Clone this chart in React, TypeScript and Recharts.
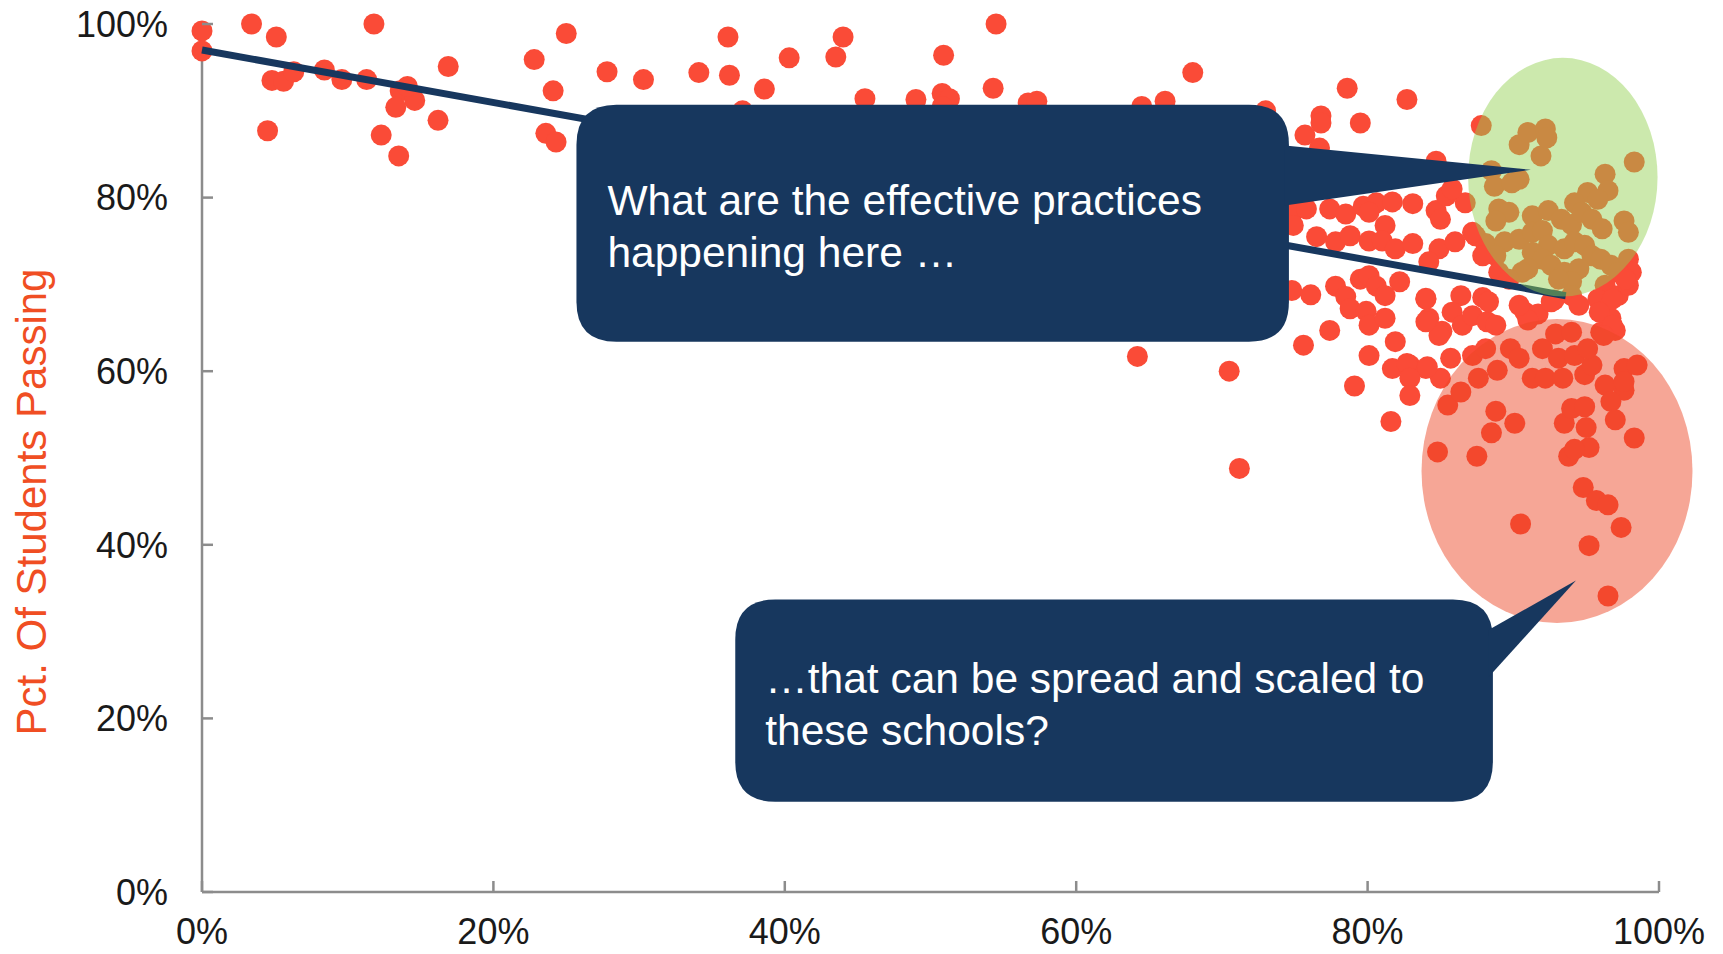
import { ScatterChart, Scatter, XAxis, YAxis, ReferenceLine, ReferenceArea } from 'recharts';

const NAVY = '#17375e';
const DOT = '#fa4b37';
const AXIS = '#8c8c8c';
const FONT = '"Liberation Sans", Arial, sans-serif';

// [share of students, pct passing], left to right
const upperBand: [number, number][] = [
  [0.0, 0.992], [0.0, 0.969], [0.034, 1.0], [0.051, 0.985], [0.048, 0.935], [0.056, 0.934],
  [0.063, 0.945], [0.045, 0.877], [0.084, 0.947], [0.096, 0.936], [0.113, 0.936], [0.118, 1.0],
  [0.136, 0.923], [0.146, 0.912], [0.133, 0.904], [0.141, 0.928], [0.123, 0.872], [0.135, 0.848],
  [0.162, 0.889], [0.169, 0.951], [0.228, 0.959], [0.25, 0.989], [0.241, 0.923], [0.236, 0.874],
  [0.243, 0.864], [0.278, 0.945], [0.303, 0.936], [0.341, 0.944], [0.361, 0.985], [0.362, 0.941],
  [0.386, 0.925], [0.403, 0.961], [0.44, 0.985], [0.435, 0.962], [0.455, 0.914], [0.49, 0.913],
  [0.508, 0.92], [0.513, 0.914], [0.509, 0.964], [0.545, 1.0], [0.543, 0.926], [0.567, 0.909],
  [0.573, 0.911], [0.371, 0.9], [0.508, 0.905],
  [0.68, 0.944], [0.645, 0.905], [0.661, 0.911], [0.73, 0.9], [0.786, 0.926], [0.827, 0.913],
  [0.768, 0.894], [0.768, 0.886], [0.795, 0.886], [0.757, 0.872], [0.767, 0.857], [0.847, 0.842],
];

const middleBand: [number, number][] = [
  [0.749, 0.784], [0.758, 0.787], [0.774, 0.787], [0.785, 0.781], [0.797, 0.79], [0.806, 0.794],
  [0.817, 0.795], [0.831, 0.793], [0.801, 0.783], [0.847, 0.785], [0.85, 0.775], [0.749, 0.768],
  [0.765, 0.755], [0.778, 0.749], [0.788, 0.756], [0.812, 0.768], [0.801, 0.75], [0.81, 0.75],
  [0.819, 0.741], [0.831, 0.747], [0.849, 0.741], [0.842, 0.726], [0.748, 0.693], [0.761, 0.688],
  [0.778, 0.698], [0.785, 0.686], [0.795, 0.706], [0.801, 0.71], [0.806, 0.698], [0.812, 0.687],
  [0.822, 0.703], [0.788, 0.672], [0.799, 0.669], [0.801, 0.653], [0.812, 0.661], [0.84, 0.683],
  [0.842, 0.661], [0.851, 0.646], [0.774, 0.647], [0.756, 0.63], [0.801, 0.618], [0.819, 0.634],
  [0.829, 0.607], [0.817, 0.603], [0.84, 0.603], [0.642, 0.617], [0.705, 0.6], [0.712, 0.488],
  [0.791, 0.583], [0.816, 0.542], [0.827, 0.609], [0.829, 0.592], [0.829, 0.572], [0.85, 0.592],
  [0.855, 0.561], [0.848, 0.507], [0.849, 0.641],
];

const greenZone: [number, number][] = [
  [0.878, 0.883], [0.904, 0.861], [0.91, 0.875], [0.922, 0.879], [0.919, 0.848], [0.923, 0.869],
  [0.983, 0.841], [0.885, 0.831], [0.887, 0.813], [0.904, 0.821], [0.899, 0.817], [0.867, 0.794],
  [0.89, 0.787], [0.897, 0.783], [0.888, 0.773], [0.963, 0.827], [0.965, 0.808], [0.951, 0.806],
  [0.942, 0.794], [0.958, 0.798], [0.976, 0.773], [0.979, 0.76], [0.913, 0.779], [0.924, 0.785],
  [0.933, 0.775], [0.94, 0.769], [0.947, 0.783], [0.954, 0.775], [0.961, 0.764], [0.874, 0.756],
  [0.881, 0.747], [0.894, 0.749], [0.904, 0.752], [0.913, 0.76], [0.92, 0.762], [0.924, 0.745],
  [0.935, 0.741], [0.942, 0.749], [0.949, 0.745], [0.954, 0.733], [0.888, 0.733], [0.913, 0.737],
  [0.92, 0.729], [0.926, 0.722], [0.935, 0.714], [0.945, 0.718], [0.96, 0.729], [0.967, 0.722],
  [0.91, 0.718], [0.906, 0.714], [0.94, 0.703], [0.931, 0.706],
  [0.979, 0.729], [0.981, 0.714], [0.972, 0.714], [0.963, 0.699], [0.854, 0.802], [0.858, 0.81],
  [0.86, 0.749], [0.872, 0.76], [0.879, 0.733], [0.89, 0.714], [0.897, 0.706],
];

const lowerZone: [number, number][] = [
  [0.84, 0.684], [0.864, 0.687], [0.879, 0.685], [0.858, 0.668], [0.865, 0.653], [0.872, 0.664],
  [0.882, 0.657], [0.888, 0.653], [0.84, 0.657], [0.841, 0.605], [0.857, 0.615], [0.864, 0.576],
  [0.872, 0.618], [0.881, 0.626], [0.876, 0.592], [0.889, 0.601], [0.898, 0.626], [0.904, 0.615],
  [0.913, 0.592], [0.92, 0.626], [0.922, 0.592], [0.929, 0.643], [0.931, 0.615], [0.934, 0.592],
  [0.94, 0.645], [0.942, 0.618], [0.949, 0.596], [0.954, 0.607], [0.963, 0.584], [0.96, 0.645],
  [0.97, 0.647], [0.908, 0.668], [0.917, 0.666], [0.91, 0.659], [0.928, 0.682], [0.94, 0.687],
  [0.967, 0.661], [0.976, 0.603], [0.985, 0.607], [0.976, 0.578], [0.967, 0.565], [0.97, 0.544],
  [0.983, 0.523], [0.875, 0.502], [0.888, 0.554], [0.885, 0.529], [0.901, 0.54], [0.935, 0.54],
  [0.94, 0.557], [0.949, 0.559], [0.95, 0.535], [0.952, 0.512], [0.938, 0.502], [0.942, 0.51],
  [0.948, 0.466], [0.957, 0.451], [0.965, 0.446], [0.905, 0.424], [0.974, 0.42], [0.952, 0.399],
  [0.965, 0.341],
  [0.883, 0.68], [0.904, 0.676], [0.926, 0.68], [0.945, 0.676], [0.958, 0.683], [0.972, 0.687],
  [0.979, 0.699], [0.977, 0.706], [0.968, 0.683], [0.959, 0.668], [0.968, 0.653], [0.962, 0.641],
  [0.951, 0.626], [0.976, 0.588],
];

const trendStart = { x: 0, y: 0.97 };
const trendEnd = { x: 0.936, y: 0.687 };

const ticks = [0, 0.2, 0.4, 0.6, 0.8, 1];
const pct = (v: number) => `${Math.round(v * 100)}%`;

const greenOval = { x1: 0.869, x2: 0.999, y1: 0.686, y2: 0.961 };
const redOval = { x1: 0.837, x2: 1.023, y1: 0.31, y2: 0.66 };

const topBox = { x1: 0.257, x2: 0.746, y1: 0.634, y2: 0.907 };
const topPointer = { baseTop: 0.86, baseBottom: 0.791, tipX: 0.912, tipY: 0.832 };
const topLines = ['What are the effective practices', 'happening here \u2026'];

const bottomBox = { x1: 0.366, x2: 0.886, y1: 0.104, y2: 0.337 };
const bottomPointer = { baseTop: 0.302, baseBottom: 0.248, tipX: 0.943, tipY: 0.359 };
const bottomLines = ['\u2026that can be spread and scaled to', 'these schools?'];

const points = [...upperBand, ...middleBand, ...greenZone, ...lowerZone].map(([x, y]) => ({ x, y }));

function ovalShape(fill: string, opacity: number) {
  return (props: any) => {
    const { x, y, width, height } = props;
    return (
      <ellipse
        cx={x + width / 2}
        cy={y + height / 2}
        rx={width / 2}
        ry={height / 2}
        fill={fill}
        fillOpacity={opacity}
      />
    );
  };
}

function calloutShape(box: any, ptr: any, lines: string[], textLeft: number, firstBase: number) {
  return (props: any) => {
    const { x, y, width, height } = props;
    const kx = width / (box.x2 - box.x1);
    const ky = height / (box.y2 - box.y1);
    const px = (v: number) => x + (v - box.x1) * kx;
    const py = (v: number) => y + (box.y2 - v) * ky;
    const r = 40;
    const R = x + width;
    const B = y + height;
    const rect = `M${x + r},${y} H${R - r} Q${R},${y} ${R},${y + r} V${B - r} Q${R},${B} ${R - r},${B} H${x + r} Q${x},${B} ${x},${B - r} V${y + r} Q${x},${y} ${x + r},${y} Z`;
    const tri = `M${R - 4},${py(ptr.baseTop)} L${px(ptr.tipX)},${py(ptr.tipY)} L${R - 4},${py(ptr.baseBottom)} Z`;
    return (
      <g>
        <path d={rect} fill={NAVY} />
        <path d={tri} fill={NAVY} />
        <text x={x + textLeft} y={y + firstBase} fill="#ffffff" fontSize={42.5} fontFamily={FONT}>
          {lines.map((l, i) => (
            <tspan key={i} x={x + textLeft} dy={i === 0 ? 0 : 52}>
              {l}
            </tspan>
          ))}
        </text>
      </g>
    );
  };
}

const XTick = (props: any) => {
  const { x, y, payload } = props;
  return (
    <g>
      <line x1={x} x2={x} y1={y - 26} y2={y - 37} stroke={AXIS} strokeWidth={2.5} />
      <text x={x} y={y} dy="0.71em" textAnchor="middle" fontSize={36} fontFamily={FONT} fill="#1a1a1a">
        {pct(payload.value)}
      </text>
    </g>
  );
};

const YTick = (props: any) => {
  const { x, y, payload } = props;
  return (
    <g>
      <line x1={x + 34} x2={x + 45} y1={y} y2={y} stroke={AXIS} strokeWidth={2.5} />
      <text x={x} y={y} dy="0.355em" textAnchor="end" fontSize={36} fontFamily={FONT} fill="#1a1a1a">
        {pct(payload.value)}
      </text>
    </g>
  );
};

const YTitle = (props: any) => {
  const vb = props.viewBox;
  const cx = vb.x - 51;
  const cy = vb.y + vb.height / 2 + 44;
  return (
    <text
      x={cx}
      y={cy}
      transform={`rotate(-90 ${cx} ${cy})`}
      textAnchor="middle"
      dominantBaseline="central"
      fontSize={42}
      fontFamily={FONT}
      fill="#f04e23"
    >
      Pct. Of Students Passing
    </text>
  );
};

export default function App() {
  return (
    <div style={{ width: 1715, height: 980, background: '#fff' }}>
      <style>{'body{overflow:hidden} .recharts-surface{overflow:visible}'}</style>
      <ScatterChart width={1715} height={980} margin={{ top: 16, right: 64, bottom: 36, left: 74 }}>
        <XAxis
          type="number"
          dataKey="x"
          domain={[0, 1]}
          ticks={ticks}
          interval={0}
          height={60}
          axisLine={{ stroke: AXIS, strokeWidth: 2.5 }}
          tickLine={false}
          tickSize={0}
          tickMargin={26}
          tick={<XTick />}
        />
        <YAxis
          type="number"
          dataKey="y"
          domain={[0, 1]}
          ticks={ticks}
          interval={0}
          width={120}
          axisLine={{ stroke: AXIS, strokeWidth: 2.5 }}
          tickLine={false}
          tickSize={0}
          tickMargin={34}
          tick={<YTick />}
          label={{ content: YTitle }}
        />
        <Scatter
          data={points}
          isAnimationActive={false}
          zIndex={600}
          shape={(p: any) => <circle cx={p.cx} cy={p.cy} r={10.5} fill={DOT} />}
        />
        <ReferenceLine
          segment={[trendStart, trendEnd]}
          stroke={NAVY}
          strokeWidth={7}
          ifOverflow="visible"
          zIndex={650}
        />
        <ReferenceArea {...greenOval} ifOverflow="visible" zIndex={700} shape={ovalShape('#92d050', 0.47)} />
        <ReferenceArea {...redOval} ifOverflow="visible" zIndex={700} shape={ovalShape('#ec4624', 0.48)} />
        <ReferenceArea
          {...topBox}
          ifOverflow="visible"
          zIndex={800}
          shape={calloutShape(topBox, topPointer, topLines, 31, 110)}
        />
        <ReferenceArea
          {...bottomBox}
          ifOverflow="visible"
          zIndex={800}
          shape={calloutShape(bottomBox, bottomPointer, bottomLines, 30, 94)}
        />
      </ScatterChart>
    </div>
  );
}
